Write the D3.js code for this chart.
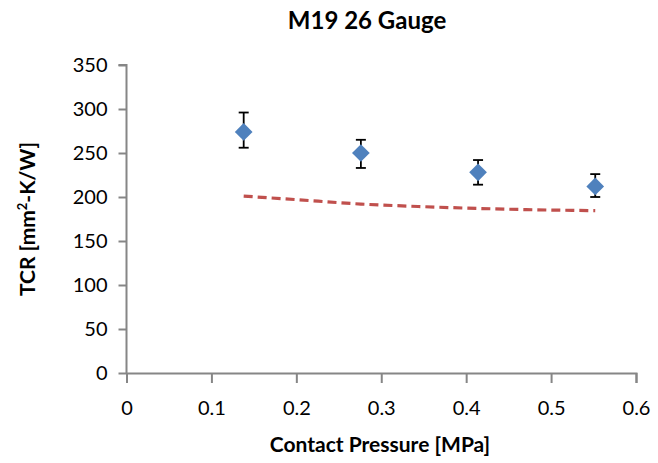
<!DOCTYPE html>
<html>
<head>
<meta charset="utf-8">
<script src="https://cdn.jsdelivr.net/npm/d3@7"></script>
<style>
  body { margin: 0; background: #fff; }
  svg text { font-family: Lato, "Open Sans", sans-serif; }
</style>
</head>
<body>
<div id="chart"></div>
<script>
// measured data (MPa vs TCR)
const pressure = [0.138, 0.276, 0.414, 0.552];
const tcr = [274, 250, 228, 212];
const errLow = [256, 233, 214, 200];
const errHigh = [296, 265, 242, 226];

// model curve (red dashed)
const modelX = [0.138, 0.2, 0.276, 0.35, 0.414, 0.48, 0.552];
const modelY = [201, 197, 192, 189, 187, 185.5, 184.5];

const xTicks = [0, 0.1, 0.2, 0.3, 0.4, 0.5, 0.6];
const yTicks = [0, 50, 100, 150, 200, 250, 300, 350];

const width = 658, height = 463;
const margin = { left: 126.5, right: 22, top: 65, bottom: 90 };

const svg = d3.select('#chart').append('svg')
  .attr('width', width)
  .attr('height', height);

const x = d3.scaleLinear().domain([0, 0.6]).range([margin.left, width - margin.right]);
const y = d3.scaleLinear().domain([0, 350]).range([height - margin.bottom, margin.top]);

const axisColor = '#868686';

// y axis
const yAxis = svg.append('g')
  .attr('transform', `translate(${margin.left},0)`)
  .call(d3.axisLeft(y).tickValues(yTicks).tickSize(8).tickPadding(11).tickFormat(d3.format('d')));

// x axis
const xAxis = svg.append('g')
  .attr('transform', `translate(0,${y(0)})`)
  .call(d3.axisBottom(x).tickValues(xTicks).tickSize(10).tickPadding(18).tickFormat(d => d === 0 ? '0' : d3.format('.1f')(d)));

[yAxis, xAxis].forEach(a => {
  a.select('.domain').attr('stroke', axisColor).attr('stroke-width', 2);
  a.selectAll('.tick line').attr('stroke', axisColor).attr('stroke-width', 2);
  a.selectAll('.tick text').attr('fill', '#000').attr('font-size', 20);
});
// small stub left of origin, like the reference
yAxis.select('.domain').attr('d', `M-8,${y(350)}H0V${y(0)}`);

// model line
const line = d3.line().x((d, i) => x(modelX[i])).y(d => y(d)).curve(d3.curveMonotoneX);
svg.append('path')
  .datum(modelY)
  .attr('d', line)
  .attr('fill', 'none')
  .attr('stroke', '#C0504D')
  .attr('stroke-width', 3.2)
  .attr('stroke-dasharray', '9,5');

// error bars
const eb = svg.append('g').attr('stroke', '#000').attr('stroke-width', 1.8);
pressure.forEach((p, i) => {
  eb.append('line').attr('x1', x(p)).attr('x2', x(p)).attr('y1', y(errLow[i])).attr('y2', y(errHigh[i]));
  eb.append('line').attr('x1', x(p) - 5).attr('x2', x(p) + 5).attr('y1', y(errLow[i])).attr('y2', y(errLow[i]));
  eb.append('line').attr('x1', x(p) - 5).attr('x2', x(p) + 5).attr('y1', y(errHigh[i])).attr('y2', y(errHigh[i]));
});

// diamond markers
svg.append('g').selectAll('path')
  .data(pressure)
  .join('path')
  .attr('d', d3.symbol().type(d3.symbolDiamond2).size(200))
  .attr('transform', (d, i) => `translate(${x(d)},${y(tcr[i])})`)
  .attr('fill', '#4F81BD');

// title
svg.append('text')
  .attr('x', 367).attr('y', 29)
  .attr('text-anchor', 'middle')
  .attr('font-size', 24).attr('font-weight', 'bold')
  .text('M19 26 Gauge');

// x title
svg.append('text')
  .attr('x', 380).attr('y', 452)
  .attr('text-anchor', 'middle')
  .attr('font-size', 21).attr('font-weight', 'bold')
  .text('Contact Pressure [MPa]');

// y title
const yt = svg.append('text')
  .attr('transform', `translate(35,${(y(0) + y(350)) / 2}) rotate(-90)`)
  .attr('text-anchor', 'middle')
  .attr('font-size', 21).attr('font-weight', 'bold');
yt.append('tspan').text('TCR [mm');
yt.append('tspan').attr('font-size', 13).attr('dy', -8).text('2');
yt.append('tspan').attr('dy', 8).text('-K/W]');
</script>
</body>
</html>
